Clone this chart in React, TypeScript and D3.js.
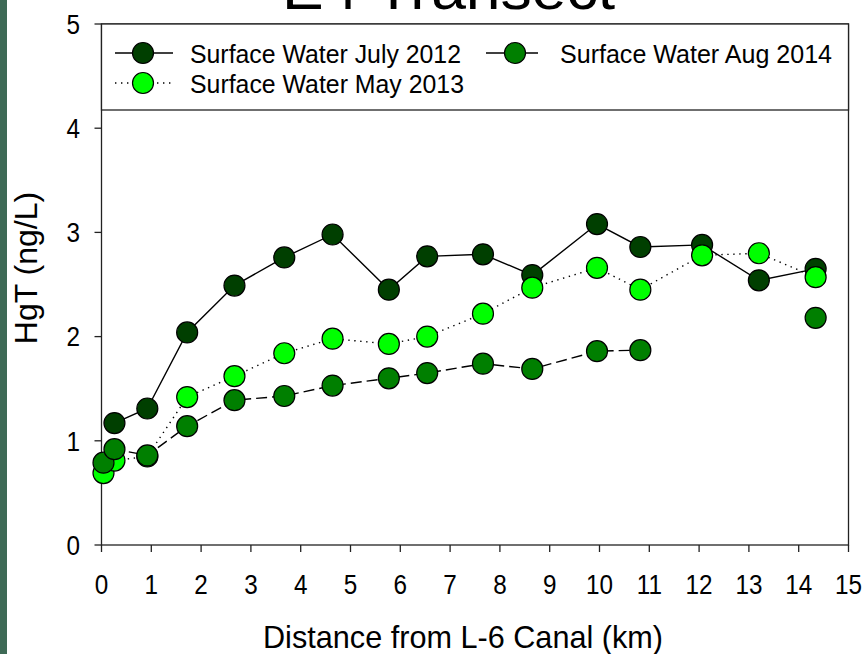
import React from "react";
import * as d3 from "d3";

// Distance of each sampling station from the L-6 Canal (km)
const distanceKm = [0.04, 0.26, 0.92, 1.72, 2.67, 3.67, 4.64, 5.77, 6.54, 7.66, 8.65, 9.95, 10.82, 12.06, 13.2, 14.34];

// Total mercury in surface water (ng/L); null = not sampled
const july2012 = [null, 1.17, 1.31, 2.04, 2.49, 2.76, 2.98, 2.45, 2.77, 2.79, 2.59, 3.08, 2.86, 2.88, 2.54, 2.65];
const may2013 = [0.69, 0.81, 0.85, 1.42, 1.62, 1.84, 1.98, 1.93, 2.0, 2.22, 2.47, 2.66, 2.45, 2.78, 2.8, 2.57];
const aug2014 = [0.79, 0.92, 0.86, 1.14, 1.39, 1.43, 1.53, 1.6, 1.65, 1.74, 1.69, 1.86, 1.87, null, null, 2.18];

const xTicks = [0, 1, 2, 3, 4, 5, 6, 7, 8, 9, 10, 11, 12, 13, 14, 15];
const yTicks = [0, 1, 2, 3, 4, 5];

const chartTitle = "E4 Transect";
const xTitle = "Distance from L-6 Canal (km)";
const yTitle = "HgT (ng/L)";

type Series = {
  name: string;
  values: (number | null)[];
  fill: string;
  dash: string | null;
};

const series: Series[] = [
  { name: "Surface Water July 2012", values: july2012, fill: "#003f00", dash: null },
  { name: "Surface Water May 2013", values: may2013, fill: "#00ff00", dash: "1.4,4.6" },
  { name: "Surface Water Aug 2014", values: aug2014, fill: "#007f00", dash: "11,5" },
];

const W = 867;
const H = 654;
const plot = { left: 101.5, right: 848.5, top: 24, bottom: 545 };
const font = "'Liberation Sans', Arial, sans-serif";
const R = 10.5;

export default function App() {
  const x = d3.scaleLinear().domain([0, 15]).range([plot.left, plot.right]);
  const y = d3.scaleLinear().domain([0, 5]).range([plot.bottom, plot.top]);

  const pts = (s: Series) =>
    distanceKm.map((d, i) => ({ d, v: s.values[i] }));

  const line = d3
    .line<{ d: number; v: number | null }>()
    .defined((p) => p.v != null)
    .x((p) => x(p.d))
    .y((p) => y(p.v as number));

  const legendRows = [
    { s: series[0], lx: 115, rx: 173, cx: 143, tx: 190, ty: 53, w: 271, solid: true },
    { s: series[2], lx: 486, rx: 538, cx: 515, tx: 560, ty: 53, w: 272, solid: true },
    { s: series[1], lx: 115, rx: 173, cx: 143, tx: 190, ty: 83, w: 274, solid: false },
  ];

  return (
    <svg
      width={W}
      height={H}
      viewBox={`0 0 ${W} ${H}`}
      style={{ position: "absolute", left: 0, top: 0, background: "#fff" }}
      fontFamily={font}
    >
      <rect x={0} y={0} width={W} height={H} fill="#fff" />
      <rect x={0} y={0} width={7} height={H} fill="#3e6a56" />

      {/* title, mostly above the top edge */}
      <text
        x={282}
        y={9}
        fontSize={58}
        textLength={333}
        lengthAdjust="spacingAndGlyphs"
        fill="#000"
      >
        {chartTitle}
      </text>

      {/* plot frame */}
      <rect
        x={plot.left}
        y={plot.top}
        width={plot.right - plot.left}
        height={plot.bottom - plot.top}
        fill="none"
        stroke="#222"
        strokeWidth={1.3}
      />

      {/* y axis ticks */}
      {yTicks.map((t) => (
        <g key={"y" + t}>
          <line x1={plot.left - 7} x2={plot.left} y1={y(t)} y2={y(t)} stroke="#222" strokeWidth={1.3} />
          <text
            transform={`translate(80,${y(t)}) scale(0.9,1)`}
            dy="0.36em"
            textAnchor="end"
            fontSize={27}
            fill="#000"
          >
            {t}
          </text>
        </g>
      ))}

      {/* x axis ticks */}
      {xTicks.map((t) => (
        <g key={"x" + t}>
          <line x1={x(t)} x2={x(t)} y1={plot.bottom} y2={plot.bottom + 7} stroke="#222" strokeWidth={1.3} />
          <text
            transform={`translate(${x(t)},594) scale(0.9,1)`}
            textAnchor="middle"
            fontSize={27}
            fill="#000"
          >
            {t}
          </text>
        </g>
      ))}

      {/* axis titles */}
      <text
        x={263}
        y={648}
        fontSize={32}
        textLength={400}
        lengthAdjust="spacingAndGlyphs"
        fill="#000"
      >
        {xTitle}
      </text>
      <text
        transform={`translate(37,268) rotate(-90)`}
        textAnchor="middle"
        fontSize={32}
        fill="#000"
      >
        {yTitle}
      </text>

      {/* series lines */}
      {series.map((s) => (
        <path
          key={"l" + s.name}
          d={line(pts(s)) || ""}
          fill="none"
          stroke="#000"
          strokeWidth={1.4}
          strokeDasharray={s.dash || undefined}
        />
      ))}

      {/* series markers */}
      {series.map((s) => (
        <g key={"m" + s.name}>
          {pts(s)
            .filter((p) => p.v != null)
            .map((p, i) => (
              <circle
                key={i}
                cx={x(p.d)}
                cy={y(p.v as number)}
                r={R}
                fill={s.fill}
                stroke="#000"
                strokeWidth={1.2}
              />
            ))}
        </g>
      ))}

      {/* legend */}
      <rect
        x={plot.left}
        y={plot.top}
        width={plot.right - plot.left}
        height={86}
        fill="#fff"
        stroke="#222"
        strokeWidth={1.3}
      />
      {legendRows.map((r) => (
        <g key={"lg" + r.s.name}>
          <line
            x1={r.lx}
            x2={r.rx}
            y1={r.ty}
            y2={r.ty}
            stroke="#000"
            strokeWidth={1.4}
            strokeDasharray={r.solid ? undefined : r.s.dash || undefined}
          />
          <circle cx={r.cx} cy={r.ty} r={R} fill={r.s.fill} stroke="#000" strokeWidth={1.2} />
          <text
            x={r.tx}
            y={r.ty}
            dy="0.36em"
            fontSize={26.5}
            textLength={r.w}
            lengthAdjust="spacingAndGlyphs"
            fill="#000"
          >
            {r.s.name}
          </text>
        </g>
      ))}
    </svg>
  );
}
